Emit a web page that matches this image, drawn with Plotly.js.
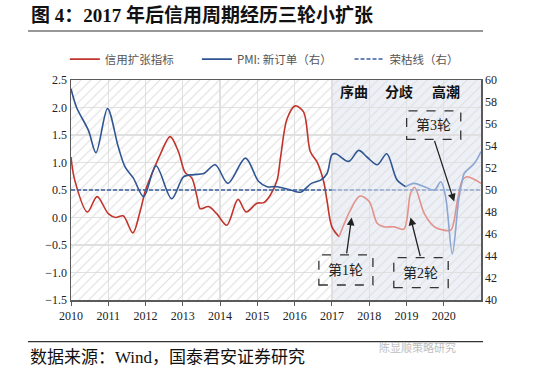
<!DOCTYPE html>
<html>
<head>
<meta charset="utf-8">
<script src="https://cdn.plot.ly/plotly-3.0.1.min.js"></script>
<style>html,body{margin:0;padding:0;background:#fff;}#chart{width:550px;height:384px;}</style>
</head>
<body>
<div id="chart"></div>
<script>
// ---- data ----
const creditX = [2010.0, 2010.1, 2010.44, 2010.7, 2011.0, 2011.2, 2011.4, 2011.66, 2011.85, 2012.0, 2012.12, 2012.39, 2012.66, 2012.88, 2013.06, 2013.24, 2013.38, 2013.47, 2013.69, 2013.91, 2014.18, 2014.48, 2014.7, 2014.99, 2015.17, 2015.35, 2015.53, 2015.62, 2015.8, 2016.02, 2016.24, 2016.42, 2016.6, 2016.78, 2016.87, 2017.0, 2017.19, 2017.5, 2017.75, 2018.0, 2018.22, 2018.4, 2018.67, 2018.93, 2019.11, 2019.22, 2019.48, 2019.75, 2020.0, 2020.19, 2020.37, 2020.5, 2020.62, 2020.8, 2021.0];
const creditY = [1.1, 0.68, 0.1, 0.38, 0.07, 0.0, 0.03, -0.28, 0.1, 0.5, 0.71, 1.14, 1.47, 1.2, 0.82, 0.72, 0.38, 0.16, 0.2, 0.07, -0.14, 0.33, 0.1, 0.26, 0.27, 0.41, 0.68, 1.08, 1.8, 2.03, 1.92, 1.2, 1.01, 0.65, 0.3, -0.17, -0.35, 0.14, 0.39, 0.29, -0.11, -0.17, -0.17, -0.21, 0.44, 0.55, 0.07, -0.17, -0.23, -0.23, 0.32, 0.68, 0.74, 0.7, 0.62];

const pmiX = [2010.0, 2010.15, 2010.47, 2010.67, 2010.98, 2011.27, 2011.45, 2011.67, 2011.95, 2012.28, 2012.7, 2013.02, 2013.29, 2013.56, 2013.87, 2014.21, 2014.68, 2015.03, 2015.26, 2015.53, 2015.89, 2016.16, 2016.45, 2016.7, 2016.87, 2017.0, 2017.1, 2017.45, 2017.72, 2017.94, 2018.22, 2018.47, 2018.75, 2018.98, 2019.2, 2019.48, 2019.75, 2019.92, 2020.05, 2020.23, 2020.4, 2020.5, 2020.55, 2020.82, 2021.0];
const pmiY = [59.2, 57.5, 55.4, 53.4, 57.4, 53.9, 52.1, 51.1, 49.4, 52.2, 49.2, 51.2, 51.4, 51.5, 52.3, 50.6, 52.9, 50.8, 50.3, 50.3, 50.0, 49.8, 50.6, 50.9, 51.5, 53.2, 53.3, 52.6, 53.6, 53.0, 52.3, 53.3, 50.9, 50.3, 50.6, 50.3, 50.0, 50.75, 49.4, 44.2, 49.1, 50.9, 51.5, 52.4, 53.5];

const lineX = [2010, 2021];
const lineY = [50, 50];

const years = [2010, 2011, 2012, 2013, 2014, 2015, 2016, 2017, 2018, 2019, 2020];
const yearLabels = ['2010', '2011', '2012', '2013', '2014', '2015', '2016', '2017', '2018', '2019', '2020'];

const names = ['信用扩张指标', 'PMI: 新订单（右）', '荣枯线（右）'];
const phases = ['序曲', '分歧', '高潮'];
const rounds = ['第1轮', '第2轮', '第3轮'];

// ---- helpers ----
function seg(xs, ys, lo, hi) {
  const ox = [], oy = [];
  for (let i = 0; i < xs.length; i++) {
    if (xs[i] >= lo && xs[i] <= hi) { ox.push(xs[i]); oy.push(ys[i]); }
  }
  return {x: ox, y: oy};
}
const NB = '\u00a0';

const RED = '#c0342c', RED_F = '#e3918b';
const BLUE = '#2f5592', BLUE_F = '#8ba6d0';
const DASH = '#3a5f9e', DASH_F = '#91a9d2';

const r1 = seg(creditX, creditY, 2010, 2017.19);
const r2 = seg(creditX, creditY, 2017.19, 2021);
const b1 = seg(pmiX, pmiY, 2010, 2018.98);
const b2 = seg(pmiX, pmiY, 2018.98, 2021);

const traces = [
  {type: 'bar', x: [2015.5], y: [4], base: [-1.5], width: [11], xaxis: 'x', yaxis: 'y',
   marker: {color: '#dedede', line: {width: 0}, pattern: {shape: '/', size: 7, solidity: 0.15, fillmode: 'replace'}},
   showlegend: false, hoverinfo: 'skip'},
  {type: 'scatter', mode: 'lines', x: r1.x, y: r1.y, name: names[0] + NB.repeat(7), line: {color: RED, width: 1.6, shape: 'spline', smoothing: 0.9}, legendgroup: 'a'},
  {type: 'scatter', mode: 'lines', x: r2.x, y: r2.y, name: names[0], line: {color: RED_F, width: 1.6, shape: 'spline', smoothing: 0.9}, showlegend: false, legendgroup: 'a'},
  {type: 'scatter', mode: 'lines', x: b1.x, y: b1.y, name: names[1] + NB.repeat(5), yaxis: 'y2', line: {color: BLUE, width: 1.6, shape: 'spline', smoothing: 0.9}, legendgroup: 'b'},
  {type: 'scatter', mode: 'lines', x: b2.x, y: b2.y, name: names[1], yaxis: 'y2', line: {color: BLUE_F, width: 1.6, shape: 'spline', smoothing: 0.9}, showlegend: false, legendgroup: 'b'},
  {type: 'scatter', mode: 'lines', x: [lineX[0], 2017], y: lineY, name: names[2], yaxis: 'y2', line: {color: DASH, width: 1.5, dash: '4px,2px'}, legendgroup: 'c'},
  {type: 'scatter', mode: 'lines', x: [2017, lineX[1]], y: lineY, name: names[2], yaxis: 'y2', line: {color: DASH_F, width: 1.5, dash: '4px,2px'}, showlegend: false, legendgroup: 'c'}
];

const tickFont = {family: 'Liberation Serif, Times New Roman, serif', size: 12, color: '#222'};
const cjk = 'Liberation Serif, Noto Sans CJK SC, sans-serif';

const shapes = [
  {type: 'rect', xref: 'x', yref: 'paper', x0: 2017, x1: 2021, y0: 0, y1: 1, fillcolor: '#edf0f6', line: {width: 0}, layer: 'below'},
  {type: 'line', xref: 'paper', yref: 'paper', x0: -0.105, x1: 1.005, y0: 1.2227, y1: 1.2227, line: {color: '#333', width: 1.2}},
  {type: 'line', xref: 'paper', yref: 'paper', x0: -0.105, x1: 1.005, y0: -0.1895, y1: -0.1895, line: {color: '#333', width: 1.2}},
  {type: 'rect', xref: 'x', yref: 'y', x0: 2016.65, x1: 2018.10, y0: -1.227, y1: -0.68, line: {color: '#333', width: 1.3, dash: 'dash'}, fillcolor: 'rgba(0,0,0,0)'},
  {type: 'rect', xref: 'x', yref: 'y', x0: 2018.66, x1: 2020.12, y0: -1.276, y1: -0.73, line: {color: '#333', width: 1.3, dash: 'dash'}, fillcolor: 'rgba(0,0,0,0)'},
  {type: 'rect', xref: 'x', yref: 'y', x0: 2019.005, x1: 2020.457, y0: 1.42, y1: 1.94, line: {color: '#333', width: 1.3, dash: 'dash'}, fillcolor: 'rgba(0,0,0,0)'}
];

const annotations = [
  {xref: 'paper', yref: 'paper', x: -0.1024, y: 1.295, xanchor: 'left', yanchor: 'middle', showarrow: false,
   text: '<b>图 4：2017 年后信用周期经历三轮小扩张</b>', font: {family: cjk, size: 19, color: '#111'}},
  {xref: 'paper', yref: 'paper', x: -0.1049, y: -0.2636, xanchor: 'left', yanchor: 'middle', showarrow: false,
   text: '数据来源：Wind，国泰君安证券研究', font: {family: cjk, size: 17, color: '#111'}},
  {xref: 'paper', yref: 'paper', x: 0.846, y: -0.2136, xanchor: 'center', yanchor: 'middle', showarrow: false,
   text: '陈显顺策略研究', font: {family: 'Noto Sans CJK SC, sans-serif', size: 11, color: '#bdbdbd'}},
  {xref: 'x', yref: 'y', x: 2017.6, y: 2.287, showarrow: false, text: '<b>' + phases[0] + '</b>', font: {family: cjk, size: 14, color: '#111'}},
  {xref: 'x', yref: 'y', x: 2018.8, y: 2.287, showarrow: false, text: '<b>' + phases[1] + '</b>', font: {family: cjk, size: 14, color: '#111'}},
  {xref: 'x', yref: 'y', x: 2020.05, y: 2.287, showarrow: false, text: '<b>' + phases[2] + '</b>', font: {family: cjk, size: 14, color: '#111'}},
  {xref: 'x', yref: 'y', x: 2017.37, y: -0.955, showarrow: false, text: rounds[0], font: {family: cjk, size: 14, color: '#222'}},
  {xref: 'x', yref: 'y', x: 2019.38, y: -1.01, showarrow: false, text: rounds[1], font: {family: cjk, size: 14, color: '#222'}},
  {xref: 'x', yref: 'y', x: 2019.73, y: 1.68, showarrow: false, text: rounds[2], font: {family: cjk, size: 14, color: '#222'}},
  {xref: 'x', yref: 'y', axref: 'x', ayref: 'y', x: 2017.53, y: 0.0, ax: 2017.39, ay: -0.68, text: '', showarrow: true, arrowhead: 2, arrowsize: 1.2, arrowwidth: 1.3, arrowcolor: '#222'},
  {xref: 'x', yref: 'y', axref: 'x', ayref: 'y', x: 2019.11, y: 0.0, ax: 2019.38, ay: -0.73, text: '', showarrow: true, arrowhead: 2, arrowsize: 1.2, arrowwidth: 1.3, arrowcolor: '#222'},
  {xref: 'x', yref: 'y', axref: 'x', ayref: 'y', x: 2020.28, y: 0.29, ax: 2019.74, ay: 1.42, text: '', showarrow: true, arrowhead: 2, arrowsize: 1.2, arrowwidth: 1.3, arrowcolor: '#222'}
];

const layout = {
  width: 550, height: 384,
  margin: {l: 71, r: 69, t: 80, b: 84, pad: 0},
  paper_bgcolor: '#fff', plot_bgcolor: '#fff',
  showlegend: true,
  legend: {orientation: 'h', x: -0.015, y: 1.095, xanchor: 'left', yanchor: 'middle',
           font: {family: 'Noto Sans CJK SC, Liberation Serif, sans-serif', size: 11.5, color: '#555'},
           bgcolor: 'rgba(0,0,0,0)', traceorder: 'normal', itemwidth: 30},
  xaxis: {range: [2010, 2021], tickvals: years, ticktext: yearLabels, tickfont: tickFont,
          showgrid: true, gridcolor: '#e0e0e0', gridwidth: 1.3, zeroline: false,
          showline: true, linecolor: '#5a5a5a', linewidth: 1.5, mirror: true,
          ticks: 'outside', ticklen: 4, tickcolor: '#5a5a5a', fixedrange: true},
  yaxis: {range: [-1.5, 2.5], dtick: 0.5, tick0: -1.5, tickformat: '.1f', tickfont: tickFont,
          showgrid: true, gridcolor: '#e0e0e0', gridwidth: 1.3, zeroline: false,
          showline: true, linecolor: '#5a5a5a', linewidth: 1.5, ticks: '', fixedrange: true},
  yaxis2: {range: [40, 60], dtick: 2, tick0: 40, overlaying: 'y', side: 'right', tickfont: tickFont,
           showgrid: false, zeroline: false, showline: true, linecolor: '#5a5a5a', linewidth: 1.5,
           ticks: '', fixedrange: true},
  barmode: 'overlay',
  shapes: shapes,
  annotations: annotations
};

Plotly.newPlot('chart', traces, layout, {displayModeBar: false, staticPlot: true});
</script>
</body>
</html>
